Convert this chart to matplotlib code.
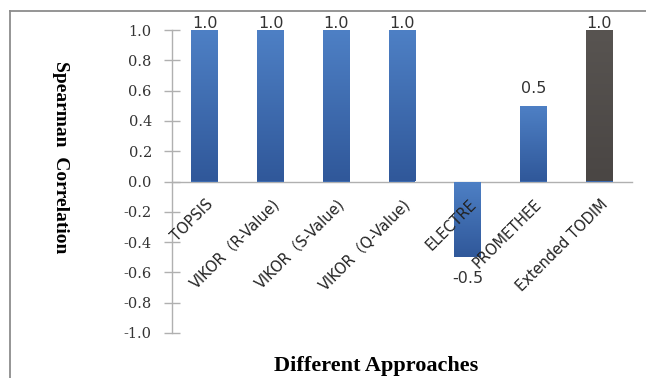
import numpy as np
import matplotlib
matplotlib.use("Agg")
import matplotlib.pyplot as plt
from matplotlib.colors import LinearSegmentedColormap
from matplotlib.lines import Line2D
from matplotlib.transforms import ScaledTranslation

# Spearman rank correlation of each approach against the proposed method
approaches = ["TOPSIS", "VIKOR（R-Value)", "VIKOR（S-Value)", "VIKOR（Q-Value)",
              "ELECTRE", "PROMETHEE", "Extended TODIM"]
correlation = [1.0, 1.0, 1.0, 1.0, -0.5, 0.5, 1.0]
y_ticks = [-1.0, -0.8, -0.6, -0.4, -0.2, 0.0, 0.2, 0.4, 0.6, 0.8, 1.0]

blue_grad = LinearSegmentedColormap.from_list("blue_grad", ["#30589a", "#4e80c5"])
gray_grad = LinearSegmentedColormap.from_list("gray_grad", ["#4a4644", "#585451"])

W, H, DPI = 646, 378, 100
fig = plt.figure(figsize=(W / DPI, H / DPI), dpi=DPI)
fig.patch.set_facecolor("white")

ax = fig.add_axes([172 / W, 1 - 333 / H, 460 / W, 303 / H])
x = np.arange(len(approaches))
bars = ax.bar(x, correlation, width=0.41, color="#3f6cb0", zorder=1)

# vertical gradient fill on each bar, clipped to the bar outline
for i, rect in enumerate(bars):
    cmap = gray_grad if i == len(approaches) - 1 else blue_grad
    x0, y0 = rect.get_x(), rect.get_y()
    w, h = rect.get_width(), rect.get_height()
    top, bottom = max(y0, y0 + h), min(y0, y0 + h)
    grad = np.linspace(1, 0, 64).reshape(-1, 1)
    im = ax.imshow(grad, cmap=cmap, extent=[x0, x0 + w, bottom, top],
                   aspect="auto", zorder=1.2, origin="upper")
    im.set_clip_path(rect)

ax.set_xlim(-0.5, len(approaches) - 0.5)
ax.set_ylim(-1.0, 1.0)
ax.set_axisbelow(False)

# spines: y axis on the left, category axis through zero
for side in ("top", "right"):
    ax.spines[side].set_visible(False)
ax.spines["bottom"].set_position(("data", 0))
for side in ("left", "bottom"):
    ax.spines[side].set_color("#b0b0b0")
    ax.spines[side].set_linewidth(1.0)
    ax.spines[side].set_zorder(0.5)

ax.set_yticks(y_ticks)
ax.set_yticklabels([f"{t:.1f}" for t in y_ticks], family="DejaVu Serif",
                   fontsize=10.5, color="#333333")
ax.tick_params(axis="y", direction="inout", length=11, width=1.0,
               color="#b0b0b0", pad=9)

ax.set_xticks(x)
ax.set_xticklabels(approaches, rotation=45, ha="right", va="top",
                   rotation_mode="anchor", fontsize=10.5, color="#222222",
                   family=["DejaVu Sans", "Noto Sans CJK SC"])
ax.tick_params(axis="x", length=0, pad=11)
shift = ScaledTranslation(1 / DPI, 0, fig.dpi_scale_trans)
for lab in ax.get_xticklabels():
    lab.set_transform(lab.get_transform() + shift)
    lab.set_zorder(5)

# value labels
for xi, v in zip(x, correlation):
    if v >= 1.0:
        off, va = -1, "bottom"
    elif v >= 0:
        off, va = 7, "bottom"
    else:
        off, va = -10, "top"
    ax.annotate(f"{v:.1f}", (xi, v), xytext=(0, off), textcoords="offset points",
                ha="center", va=va, fontsize=11.5, color="#333333",
                annotation_clip=False, zorder=5)

fig.text(60 / W, 1 - 157 / H, "Spearman  Correlation", rotation=270,
         ha="center", va="center", family="Liberation Serif",
         fontweight="bold", fontsize=14)
fig.text(376 / W, 1 - 366 / H, "Different Approaches", ha="center",
         va="center", family="Liberation Serif", fontweight="bold", fontsize=16)

# chart frame
fc = "#8c8c8c"
fig.add_artist(Line2D([10 / W, 10 / W], [0, 1 - 11 / H], color=fc, lw=1.3,
                      transform=fig.transFigure))
fig.add_artist(Line2D([10 / W, 1], [1 - 11 / H, 1 - 11 / H], color=fc, lw=1.3,
                      transform=fig.transFigure))

fig.savefig("out.png", dpi=DPI)
